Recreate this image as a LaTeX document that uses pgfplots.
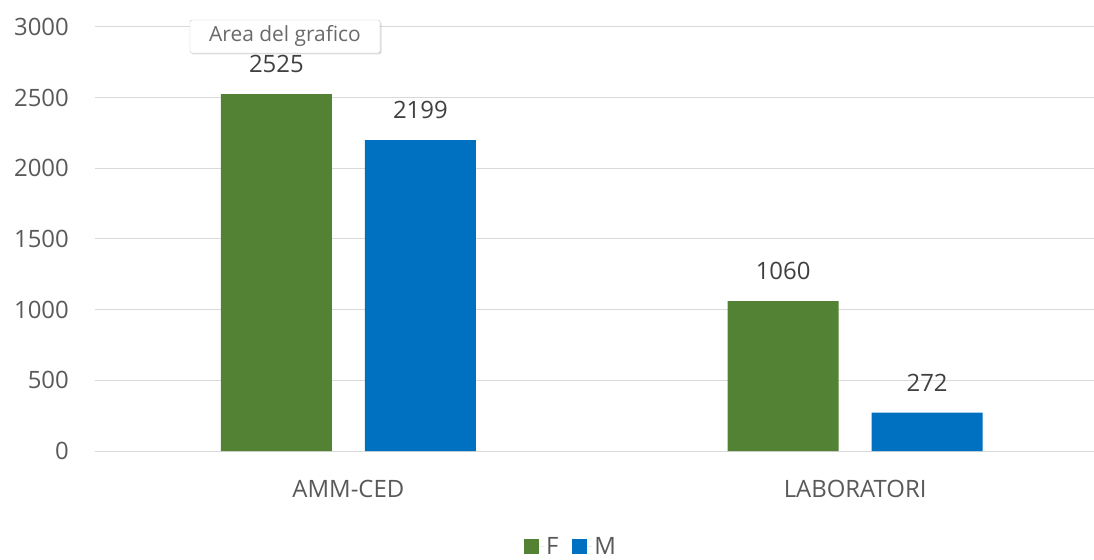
\documentclass[border=0pt]{standalone}
\usepackage{pgfplots}
\pgfplotsset{compat=1.18}
\usepackage{fontspec}
\setmainfont{Open Sans}
\usetikzlibrary{shadows}
\definecolor{cF}{HTML}{548235}
\definecolor{cM}{HTML}{0070C0}
\definecolor{gridc}{HTML}{D9D9D9}
\definecolor{txt}{HTML}{595959}
\definecolor{lbl}{HTML}{404040}
\definecolor{tipborder}{HTML}{C8C8C8}
\definecolor{tiptext}{HTML}{6A6A6A}
\begin{document}
\begin{tikzpicture}
\path[use as bounding box] (-95bp,-109bp) rectangle (999bp,451bp);
\begin{axis}[
  at={(0,0)}, anchor=south west,
  scale only axis, width=1013.5bp, height=424bp,
  xmin=-0.5, xmax=1.5, ymin=0, ymax=3000,
  ybar, bar width=111bp,
  xtick={0,1}, xticklabels={AMM-CED,LABORATORI},
  ytick={0,500,1000,1500,2000,2500,3000},
  ymajorgrids, grid style={gridc, line width=1bp},
  axis line style={draw=none},
  major tick length=0pt,
  tick label style={font=\fontsize{24}{28}\selectfont, text=txt},
  /pgf/number format/assume math mode=true,
  /pgf/number format/1000 sep={},
  yticklabel style={inner sep=0pt, xshift=-26bp},
  xticklabel style={inner sep=0pt, yshift=-29bp},
  nodes near coords,
  nodes near coords style={font=\fontsize{24}{28}\selectfont, text=lbl, anchor=south, inner sep=0pt, yshift=21bp},
  legend style={at={(0.4697,-0.1985)}, anchor=north, draw=none, fill=none,
    font=\fontsize{24}{28}\selectfont, text=txt, inner sep=0pt,
    /tikz/every even column/.append style={column sep=12bp}},
  legend columns=2,
  legend image code/.code={\fill[#1] (0bp,-7bp) rectangle (15bp,8bp); \path (15bp,0bp) -- (20bp,0bp);},
]
\addplot[fill=cF, draw=none, bar shift=-72bp] coordinates {(0,2525) (1,1060)};
\addlegendentry{F}
\addplot[fill=cM, draw=none, bar shift=72bp] coordinates {(0,2199) (1,272)};
\addlegendentry{M}
\end{axis}
\node[draw=tipborder, fill=white, rounded corners=2bp,
  drop shadow={shadow xshift=1.5bp, shadow yshift=-1.5bp, opacity=0.25},
  minimum width=190bp, minimum height=33bp, inner sep=0pt,
  text=tiptext, font=\fontsize{21}{24}\selectfont] at (190bp,414.5bp) {Area del grafico};
\end{tikzpicture}
\end{document}
